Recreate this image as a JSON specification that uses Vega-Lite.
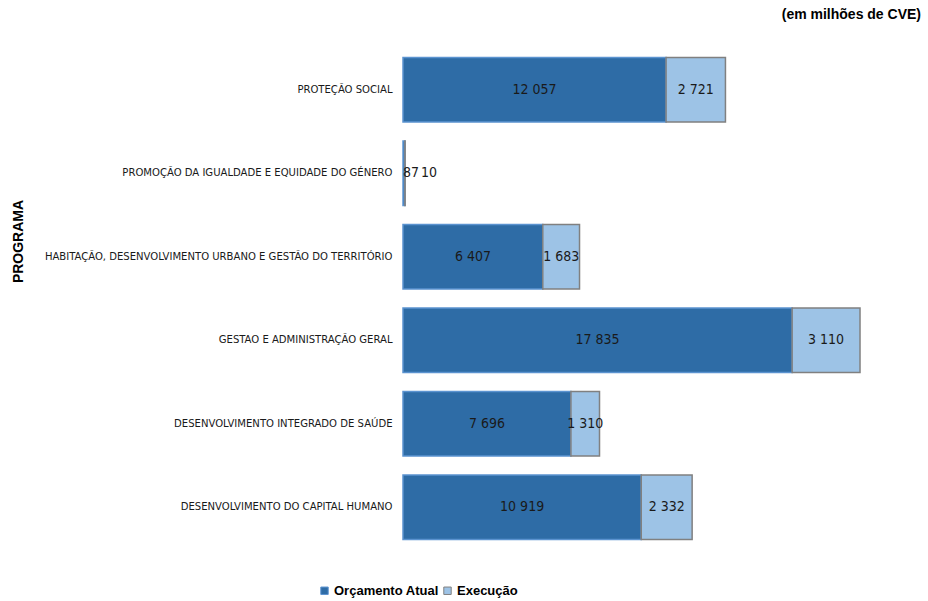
{
  "$schema": "https://vega.github.io/schema/vega-lite/v6.json",
  "width": 500,
  "height": 501,
  "autosize": {"type": "none"},
  "padding": {"left": 403, "top": 48, "right": 25, "bottom": 52},
  "background": "white",
  "title": {
    "text": "(em milhões de CVE)",
    "anchor": "end",
    "orient": "top",
    "offset": 26,
    "dx": 18,
    "font": "Liberation Sans",
    "fontSize": 14,
    "fontWeight": "bold",
    "color": "#000000"
  },
  "config": {
    "view": {"stroke": null},
    "font": "Liberation Sans"
  },
  "data": {
    "values": [
      {"programa": "PROTEÇÃO SOCIAL", "serie": "Orçamento Atual", "valor": 12057, "ordem": 1},
      {"programa": "PROTEÇÃO SOCIAL", "serie": "Execução", "valor": 2721, "ordem": 2},
      {"programa": "PROMOÇÃO DA IGUALDADE E EQUIDADE DO GÉNERO", "serie": "Orçamento Atual", "valor": 87, "ordem": 1},
      {"programa": "PROMOÇÃO DA IGUALDADE E EQUIDADE DO GÉNERO", "serie": "Execução", "valor": 10, "ordem": 2},
      {"programa": "HABITAÇÃO, DESENVOLVIMENTO URBANO E GESTÃO DO TERRITÓRIO", "serie": "Orçamento Atual", "valor": 6407, "ordem": 1},
      {"programa": "HABITAÇÃO, DESENVOLVIMENTO URBANO E GESTÃO DO TERRITÓRIO", "serie": "Execução", "valor": 1683, "ordem": 2},
      {"programa": "GESTAO E ADMINISTRAÇÃO GERAL", "serie": "Orçamento Atual", "valor": 17835, "ordem": 1},
      {"programa": "GESTAO E ADMINISTRAÇÃO GERAL", "serie": "Execução", "valor": 3110, "ordem": 2},
      {"programa": "DESENVOLVIMENTO INTEGRADO DE SAÚDE", "serie": "Orçamento Atual", "valor": 7696, "ordem": 1},
      {"programa": "DESENVOLVIMENTO INTEGRADO DE SAÚDE", "serie": "Execução", "valor": 1310, "ordem": 2},
      {"programa": "DESENVOLVIMENTO DO CAPITAL HUMANO", "serie": "Orçamento Atual", "valor": 10919, "ordem": 1},
      {"programa": "DESENVOLVIMENTO DO CAPITAL HUMANO", "serie": "Execução", "valor": 2332, "ordem": 2}
    ]
  },
  "transform": [
    {"stack": "valor", "groupby": ["programa"], "sort": [{"field": "ordem", "order": "ascending"}], "as": ["v0", "v1"]},
    {"calculate": "(datum.v0 + datum.v1) / 2", "as": "mid"},
    {"calculate": "replace(format(datum.valor, ',d'), ',', ' ')", "as": "rotulo"}
  ],
  "encoding": {
    "y": {
      "field": "programa",
      "type": "nominal",
      "sort": [
        "PROTEÇÃO SOCIAL",
        "PROMOÇÃO DA IGUALDADE E EQUIDADE DO GÉNERO",
        "HABITAÇÃO, DESENVOLVIMENTO URBANO E GESTÃO DO TERRITÓRIO",
        "GESTAO E ADMINISTRAÇÃO GERAL",
        "DESENVOLVIMENTO INTEGRADO DE SAÚDE",
        "DESENVOLVIMENTO DO CAPITAL HUMANO"
      ],
      "scale": {"paddingInner": 0.23, "paddingOuter": 0.115},
      "axis": {
        "title": "PROGRAMA",
        "titleFont": "Liberation Sans",
        "titleFontSize": 14,
        "titleFontWeight": "bold",
        "titleColor": "#000000",
        "titleX": -385,
        "titleY": 193,
        "titleAngle": -90,
        "titleAlign": "center",
        "titleBaseline": "middle",
        "domain": false,
        "ticks": false,
        "labelPadding": 11,
        "labelFont": "DejaVu Sans Condensed",
        "labelFontSize": 11.2,
        "labelColor": "#1a1a1a",
        "labelLimit": 400
      }
    }
  },
  "layer": [
    {
      "mark": {"type": "bar", "strokeWidth": 1.5},
      "encoding": {
        "x": {"field": "v0", "type": "quantitative", "scale": {"domain": [0, 22915], "nice": false, "zero": true}, "axis": null},
        "x2": {"field": "v1"},
        "color": {
          "field": "serie",
          "type": "nominal",
          "scale": {"domain": ["Orçamento Atual", "Execução"], "range": ["#2E6CA6", "#9DC3E6"]},
          "legend": {
            "title": null,
            "orient": "none",
            "direction": "horizontal",
            "legendX": -85,
            "legendY": 536,
            "symbolType": "square",
            "symbolSize": 55,
            "symbolStrokeColor": "#5a5a5a",
            "symbolStrokeWidth": 1,
            "symbolOffset": 0,
            "labelFont": "Liberation Sans",
            "labelFontSize": 13,
            "labelFontWeight": "bold",
            "labelColor": "#000000",
            "labelOffset": 3,
            "columnPadding": 2
          }
        },
        "stroke": {
          "field": "serie",
          "type": "nominal",
          "scale": {"domain": ["Orçamento Atual", "Execução"], "range": ["#5B93D0", "#808080"]},
          "legend": null
        }
      }
    },
    {
      "transform": [{"filter": "datum.programa != 'PROMOÇÃO DA IGUALDADE E EQUIDADE DO GÉNERO'"}],
      "mark": {"type": "text", "align": "center", "baseline": "middle", "font": "DejaVu Sans Condensed", "fontSize": 14, "color": "#1a1a1a"},
      "encoding": {
        "x": {"field": "mid", "type": "quantitative"},
        "text": {"field": "rotulo"}
      }
    },
    {
      "transform": [{"filter": "datum.programa == 'PROMOÇÃO DA IGUALDADE E EQUIDADE DO GÉNERO' && datum.serie == 'Orçamento Atual'"}],
      "mark": {"type": "text", "align": "left", "baseline": "middle", "dx": 0, "font": "DejaVu Sans Condensed", "fontSize": 14, "color": "#1a1a1a"},
      "encoding": {
        "x": {"field": "v0", "type": "quantitative"},
        "text": {"field": "rotulo"}
      }
    },
    {
      "transform": [{"filter": "datum.programa == 'PROMOÇÃO DA IGUALDADE E EQUIDADE DO GÉNERO' && datum.serie == 'Execução'"}],
      "mark": {"type": "text", "align": "left", "baseline": "middle", "dx": 16, "font": "DejaVu Sans Condensed", "fontSize": 14, "color": "#1a1a1a"},
      "encoding": {
        "x": {"field": "v0", "type": "quantitative"},
        "text": {"field": "rotulo"}
      }
    }
  ]
}
